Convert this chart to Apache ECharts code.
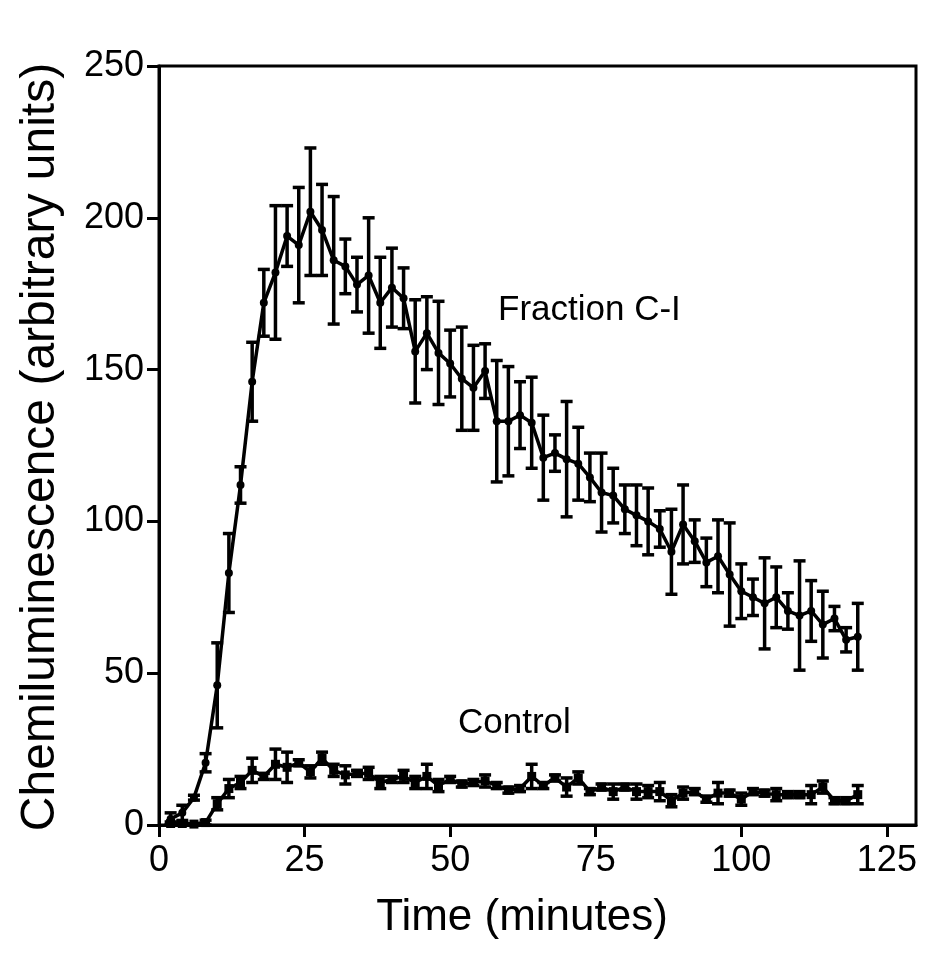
<!DOCTYPE html>
<html>
<head>
<meta charset="utf-8">
<script src="https://cdn.jsdelivr.net/npm/echarts@6/dist/echarts.min.js"></script>
<style>
html,body{margin:0;padding:0;background:#fff;}
#chart{width:939px;height:960px;}
</style>
</head>
<body>
<div id="chart"></div>
<script>
// Time points (minutes)
const times = [2,4,6,8,10,12,14,16,18,20,22,24,26,28,30,32,34,36,38,40,
  42,44,46,48,50,52,54,56,58,60,62,64,66,68,70,72,74,76,78,80,
  82,84,86,88,90,92,94,96,98,100,102,104,106,108,110,112,114,116,118,120];

// Fraction C-I mean and error
const fractionMean = [2,4,9,20.5,46,83,112,146,172,182,194,191,202,196,186,184,178,181,172,177,
  173.5,156,162,155.5,152,147,144,149.5,133,133,135,132.5,121,122.5,120.5,119,114.5,109.5,108.5,104,
  102,100,97.5,90,99,93.5,86.5,88.5,82.5,77,75,73,75,70.5,69,70.5,66,68,61,62];
const fractionErr = [2,2.5,0.8,3,14,13,6,13,11,22,10,19,21,15,21,9,9,19,15,13,
  10,17,12,17,11,17,14,9,20,18,11,15,14,6,19,12,8,13,9,8,
  10,11,6,14,13,7,8,12,17,9,6,15,10,6,18,10,11,4,4,11];

// Control mean and error
const controlMean = [0.5,0.5,0.3,0.8,7,12,14,18,16,20,19,20.5,17.5,22,18,16.5,17,17,14,15,
  16,14,16,13,15,13.5,14,14.5,13,11.5,12,16,13,15.5,12.5,15.5,11,12.5,11,12.5,
  11,11,11,8,10.5,11,8.5,10.5,10.5,8.5,11,10.5,10,10,10,10,12.5,8,8,10];
const controlErr = [0.5,0.5,0,0.8,2,3,2,4,1,5,5,1,2,2,2,3,1,2,2,1,
  2,2,4,2,1,1,1,2,1,1,1,4,1,1,3,2,1,1,2.5,1,
  2.5,2,3,2,2,1,1,3.5,1,2,1,1,2,1,1,3,2,1,1,3];

// Axis ticks
const xTicks = [0,25,50,75,100,125];
const yMin = 0, yMax = 250, yInterval = 50;

const labels = {
  yTitle: 'Chemiluminescence (arbitrary units)',
  xTitle: 'Time (minutes)',
  fraction: 'Fraction C-I',
  control: 'Control'
};

const FONT = 'Liberation Sans, Arial, Helvetica, sans-serif';

function pairs(m){ return times.map((t,i)=>[t,m[i]]); }
function bars(m,e){ return times.map((t,i)=>[t,m[i]-e[i],m[i]+e[i]]); }

function errRender(params, api){
  const x = api.value(0), lo = api.value(1), hi = api.value(2);
  const pT = api.coord([x,hi]);
  const pB = api.coord([x,lo]);
  const w = 6;
  const st = {stroke:'#000', lineWidth:3.5};
  return {type:'group', children:[
    {type:'line', shape:{x1:pT[0],y1:pT[1],x2:pB[0],y2:pB[1]}, style:st},
    {type:'line', shape:{x1:pT[0]-w,y1:pT[1],x2:pT[0]+w,y2:pT[1]}, style:st},
    {type:'line', shape:{x1:pB[0]-w,y1:pB[1],x2:pB[0]+w,y2:pB[1]}, style:st}
  ]};
}

const chart = echarts.init(document.getElementById('chart'));
chart.setOption({
  animation:false,
  backgroundColor:'#fff',
  grid:{left:159, right:23, top:66, bottom:135, show:true, borderColor:'#000', borderWidth:3, backgroundColor:'transparent'},
  xAxis:{
    type:'value', min:0, max:130,
    axisLine:{show:true, lineStyle:{color:'#000', width:3}},
    axisTick:{show:true, length:12, inside:false, lineStyle:{color:'#000', width:3}, customValues:xTicks},
    axisLabel:{color:'#000', fontSize:36, fontFamily:FONT, margin:18, customValues:xTicks},
    splitLine:{show:false}
  },
  yAxis:{
    type:'value', min:yMin, max:yMax, interval:yInterval,
    axisLine:{show:true, lineStyle:{color:'#000', width:3}},
    axisTick:{show:true, length:12, inside:false, lineStyle:{color:'#000', width:3}},
    axisLabel:{color:'#000', fontSize:36, fontFamily:FONT, margin:15},
    splitLine:{show:false}
  },
  graphic:[
    {type:'text', x:41, y:447, rotation:Math.PI/2,
     style:{text:labels.yTitle, fill:'#000', fontSize:48, fontFamily:FONT, align:'center', verticalAlign:'middle'}},
    {type:'text', x:522, y:918,
     style:{text:labels.xTitle, fill:'#000', fontSize:44, fontFamily:FONT, align:'center', verticalAlign:'middle'}},
    {type:'text', x:498, y:310,
     style:{text:labels.fraction, fill:'#000', fontSize:35, fontFamily:FONT, align:'left', verticalAlign:'middle'}},
    {type:'text', x:458, y:723,
     style:{text:labels.control, fill:'#000', fontSize:35, fontFamily:FONT, align:'left', verticalAlign:'middle'}}
  ],
  series:[
    {type:'custom', renderItem:errRender, data:bars(fractionMean,fractionErr), encode:{x:0,y:[1,2]}, z:2},
    {type:'custom', renderItem:errRender, data:bars(controlMean,controlErr), encode:{x:0,y:[1,2]}, z:2},
    {type:'line', data:pairs(fractionMean), symbol:'circle', symbolSize:8, showSymbol:true,
     lineStyle:{color:'#000', width:3.5}, itemStyle:{color:'#000', borderWidth:0}, z:3},
    {type:'line', data:pairs(controlMean), symbol:'rect', symbolSize:9, showSymbol:true,
     lineStyle:{color:'#000', width:3.5}, itemStyle:{color:'#000', borderWidth:0}, z:3}
  ]
});
</script>
</body>
</html>
